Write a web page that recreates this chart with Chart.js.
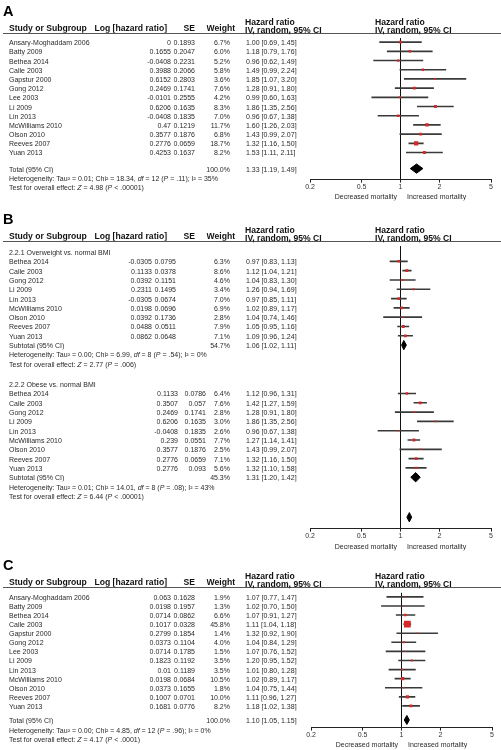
<!DOCTYPE html>
<html>
<head>
<meta charset="utf-8">
<title>Forest plots</title>
<script src="https://cdn.jsdelivr.net/npm/chart.js@4.4.1/dist/chart.umd.min.js"></script>
<style>
  html, body { margin: 0; padding: 0; background: #fff; }
  body { position: relative; width: 501px; height: 750px; overflow: hidden;
         font-family: "Liberation Sans", Arial, Helvetica, sans-serif; }
  canvas { position: absolute; left: 0; }
  .t { position: absolute; white-space: nowrap; font-size: 7px; line-height: 1; color: #2a2a2a;
       transform: translateY(-50%); will-change: transform; }
  .t.r { transform: translate(-100%, -50%); }
  .t.h { font-size: 8.6px; font-weight: bold; color: #111; }
  .t.big { font-size: 14.5px; font-weight: bold; color: #000; }
  .rule { position: absolute; left: 3px; width: 498px; height: 1.3px; background: #555; }
</style>
</head>
<body>
<script>
const FONT = '"Liberation Sans", Arial, sans-serif';
const tickValues = [0.2, 0.5, 1, 2, 5];
const tickLabels = ['0.2', '0.5', '1', '2', '5'];

// --- Panel A
const aStudies = ['Ansary-Moghaddam 2006', 'Batty 2009', 'Bethea 2014', 'Calle 2003', 'Gapstur 2000', 'Gong 2012', 'Lee 2003', 'Li 2009', 'Lin 2013', 'McWilliams 2010', 'Olson 2010', 'Reeves 2007', 'Yuan 2013'];
const aLogHR = [0, 0.1655, -0.0408, 0.3988, 0.6152, 0.2469, -0.0101, 0.6206, -0.0408, 0.47, 0.3577, 0.2776, 0.4253];
const aSE = [0.1893, 0.2047, 0.2231, 0.2066, 0.2803, 0.1741, 0.2555, 0.1635, 0.1835, 0.1219, 0.1876, 0.0659, 0.1637];
const aWeight = [6.7, 6.0, 5.2, 5.8, 3.6, 7.6, 4.2, 8.3, 7.0, 11.7, 6.8, 18.7, 8.2];
const aHR = [1.00, 1.18, 0.96, 1.49, 1.85, 1.28, 0.99, 1.86, 0.96, 1.60, 1.43, 1.32, 1.53];
const aLow = [0.69, 0.79, 0.62, 0.99, 1.07, 0.91, 0.60, 1.35, 0.67, 1.26, 0.99, 1.16, 1.11];
const aHigh = [1.45, 1.76, 1.49, 2.24, 3.20, 1.80, 1.63, 2.56, 1.38, 2.03, 2.07, 1.50, 2.11];
const aTotal = [100.0, 1.33, 1.19, 1.49];
const aHet = 'Heterogeneity: Tau² = 0.01; Chi² = 18.34, <i>df</i> = 12 (<i>P</i> = .11); I² = 35%';
const aTest = 'Test for overall effect: <i>Z</i> = 4.98 (<i>P</i> &lt; .00001)';

// --- Panel B
const bStudies = ['Bethea 2014', 'Calle 2003', 'Gong 2012', 'Li 2009', 'Lin 2013', 'McWilliams 2010', 'Olson 2010', 'Reeves 2007', 'Yuan 2013'];
const b1LogHR = [-0.0305, 0.1133, 0.0392, 0.2311, -0.0305, 0.0198, 0.0392, 0.0488, 0.0862];
const b1SE = [0.0795, 0.0378, 0.1151, 0.1495, 0.0674, 0.0696, 0.1736, 0.0511, 0.0648];
const b1Weight = [6.3, 8.6, 4.6, 3.4, 7.0, 6.9, 2.8, 7.9, 7.1];
const b1HR = [0.97, 1.12, 1.04, 1.26, 0.97, 1.02, 1.04, 1.05, 1.09];
const b1Low = [0.83, 1.04, 0.83, 0.94, 0.85, 0.89, 0.74, 0.95, 0.96];
const b1High = [1.13, 1.21, 1.30, 1.69, 1.11, 1.17, 1.46, 1.16, 1.24];
const b1Subtotal = [54.7, 1.06, 1.02, 1.11];
const b1Het = 'Heterogeneity: Tau² = 0.00; Chi² = 6.99, <i>df</i> = 8 (<i>P</i> = .54); I² = 0%';
const b1Test = 'Test for overall effect: <i>Z</i> = 2.77 (<i>P</i> = .006)';
const b2LogHR = [0.1133, 0.3507, 0.2469, 0.6206, -0.0408, 0.239, 0.3577, 0.2776, 0.2776];
const b2SE = [0.0786, 0.057, 0.1741, 0.1635, 0.1835, 0.0551, 0.1876, 0.0659, 0.093];
const b2Weight = [6.4, 7.6, 2.8, 3.0, 2.6, 7.7, 2.5, 7.1, 5.6];
const b2HR = [1.12, 1.42, 1.28, 1.86, 0.96, 1.27, 1.43, 1.32, 1.32];
const b2Low = [0.96, 1.27, 0.91, 1.35, 0.67, 1.14, 0.99, 1.16, 1.10];
const b2High = [1.31, 1.59, 1.80, 2.56, 1.38, 1.41, 2.07, 1.50, 1.58];
const b2Subtotal = [45.3, 1.31, 1.20, 1.42];
const b2Het = 'Heterogeneity: Tau² = 0.01; Chi² = 14.01, <i>df</i> = 8 (<i>P</i> = .08); I² = 43%';
const b2Test = 'Test for overall effect: <i>Z</i> = 6.44 (<i>P</i> &lt; .00001)';
const bOverall = [1.17, 1.12, 1.22]; // only the diamond is shown, estimated

// --- Panel C
const cStudies = ['Ansary-Moghaddam 2006', 'Batty 2009', 'Bethea 2014', 'Calle 2003', 'Gapstur 2000', 'Gong 2012', 'Lee 2003', 'Li 2009', 'Lin 2013', 'McWilliams 2010', 'Olson 2010', 'Reeves 2007', 'Yuan 2013'];
const cLogHR = [0.063, 0.0198, 0.0714, 0.1017, 0.2799, 0.0373, 0.0714, 0.1823, 0.01, 0.0198, 0.0373, 0.1007, 0.1681];
const cSE = [0.1628, 0.1957, 0.0862, 0.0328, 0.1854, 0.1104, 0.1785, 0.1192, 0.1189, 0.0684, 0.1655, 0.0701, 0.0776];
const cWeight = [1.9, 1.3, 6.6, 45.8, 1.4, 4.0, 1.5, 3.5, 3.5, 10.5, 1.8, 10.0, 8.2];
const cHR = [1.07, 1.02, 1.07, 1.11, 1.32, 1.04, 1.07, 1.20, 1.01, 1.02, 1.04, 1.11, 1.18];
const cLow = [0.77, 0.70, 0.91, 1.04, 0.92, 0.84, 0.76, 0.95, 0.80, 0.89, 0.75, 0.96, 1.02];
const cHigh = [1.47, 1.50, 1.27, 1.18, 1.90, 1.29, 1.52, 1.52, 1.28, 1.17, 1.44, 1.27, 1.38];
const cTotal = [100.0, 1.10, 1.05, 1.15];
const cHet = 'Heterogeneity: Tau² = 0.00; Chi² = 4.85, <i>df</i> = 12 (<i>P</i> = .96); I² = 0%';
const cTest = 'Test for overall effect: <i>Z</i> = 4.17 (<i>P</i> &lt; .0001)';

// ---------- helpers
function addText(html, x, y, cls) {
  const d = document.createElement('div');
  d.className = 't ' + (cls || '');
  d.style.left = x + 'px';
  d.style.top = y + 'px';
  d.innerHTML = html;
  document.body.appendChild(d);
}
const ci = (hr, lo, hi) => `${hr.toFixed(2)} [${lo.toFixed(2)}, ${hi.toFixed(2)}]`;

function diamond(s, row) {
  // s = [hr, low, high]
  return [{x: s[1], y: row}, {x: s[0], y: row - 0.5}, {x: s[2], y: row}, {x: s[0], y: row + 0.5}, {x: s[1], y: row}];
}

function chartConfig(p, yMax) {
  const ciData = [], ptData = [], ptRadius = [];
  p.groups.forEach(g => {
    g.hr.forEach((hr, i) => {
      const row = g.first + i;
      ciData.push({x: [g.low[i], g.high[i]], y: row});
      ptData.push({x: hr, y: row});
      ptRadius.push(Math.max(0.8, Math.sqrt(g.weight[i]) / Math.SQRT2));
    });
  });
  const datasets = [
    {type: 'bar', indexAxis: 'y', data: ciData, backgroundColor: '#3a3a3a', barThickness: 1, borderWidth: 0, order: 3},
    {type: 'scatter', data: ptData, pointStyle: 'rect', pointRadius: ptRadius, pointBackgroundColor: '#d62828', pointBorderWidth: 0, order: 0}
  ];
  p.diamonds.forEach(d => {
    datasets.push({type: 'scatter', data: diamond(d.s, d.row), showLine: true, fill: 'shape', tension: 0,
      backgroundColor: '#000', borderColor: '#000', borderWidth: 1, pointRadius: 0, order: 1});
  });
  return {
    type: 'scatter',
    data: {datasets},
    options: {
      responsive: false, animation: false, devicePixelRatio: 1, events: [],
      layout: {padding: {left: p.left, right: 501 - p.right, top: 0, bottom: 0}},
      plugins: {legend: {display: false}, tooltip: {enabled: false}},
      scales: {
        x: {
          type: 'logarithmic', min: 0.2, max: 5, bounds: 'data', offset: false,
          afterBuildTicks: s => { s.ticks = tickValues.map(v => ({value: v})); },
          ticks: {callback: (v, i) => tickLabels[i], autoSkip: false, maxRotation: 0, padding: 0,
                  color: '#333', font: {size: 7, family: FONT}},
          grid: {offset: false, color: c => (c.tick && c.tick.value === 1 ? '#111' : 'rgba(0,0,0,0)'),
                 tickColor: '#222', tickLength: 3, lineWidth: 1},
          border: {display: true, color: '#222', width: 1}
        },
        y: {type: 'linear', reverse: true, min: 0, max: yMax, display: false, offset: false,
            bounds: 'data', grace: 0, grid: {offset: false}}
      }
    }
  };
}

function makeCanvas(top, h) {
  const cv = document.createElement('canvas');
  cv.width = 501; cv.height = Math.round(h);
  cv.style.top = top + 'px';
  cv.style.width = '501px'; cv.style.height = Math.round(h) + 'px';
  document.body.appendChild(cv);
  return cv;
}

function drawPanel(p) {
  const area = p.axisY - p.top;
  const yMax = area / p.pitch;
  // first pass to learn the height of the x axis, then size the canvas so the axis sits at axisY
  let cv = makeCanvas(p.top, area + 20);
  let chart = new Chart(cv, chartConfig(p, yMax));
  const axisH = chart.height - chart.chartArea.bottom;
  chart.destroy(); cv.remove();
  cv = makeCanvas(p.top, area + axisH);
  chart = new Chart(cv, chartConfig(p, yMax));

  const Y = v => p.top + chart.scales.y.getPixelForValue(v);
  const top = p.top;

  // header
  addText(p.letter, 3, top - 23, 'big');
  const rule = document.createElement('div');
  rule.className = 'rule'; rule.style.top = (top - 1.2) + 'px';
  document.body.appendChild(rule);
  addText('Study or Subgroup', 9, top - 6, 'h');
  addText('Log [hazard ratio]', 167, top - 6, 'h r');
  addText('SE', 194.5, top - 6, 'h r');
  addText('Weight', 235, top - 6, 'h r');
  addText('Hazard ratio', 245, top - 12.5, 'h');
  addText('IV, random, 95% CI', 245, top - 4, 'h');
  addText('Hazard ratio', 375, top - 12.5, 'h');
  addText('IV, random, 95% CI', 375, top - 4, 'h');

  // table rows
  p.groups.forEach(g => {
    if (g.title) addText(g.title, 9, Y(g.titleRow));
    g.names.forEach((n, i) => {
      const y = Y(g.first + i);
      addText(n, 8.5, y);
      addText(String(g.logHR[i]), g.logRight, y, 'r');
      addText(String(g.se[i]), g.seRight, y, 'r');
      addText(g.weight[i].toFixed(1) + '%', 229.5, y, 'r');
      addText(ci(g.hr[i], g.low[i], g.high[i]), 245.5, y);
    });
    const ys = Y(g.sumRow);
    addText(g.sumLabel, 8.5, ys);
    addText(g.sum[0].toFixed(1) + '%', 229.5, ys, 'r');
    addText(ci(g.sum[1], g.sum[2], g.sum[3]), 245.5, ys);
    addText(g.het, 8.5, Y(g.hetRow));
    addText(g.test, 8.5, Y(g.hetRow + 1));
  });

  const x1 = chart.scales.x.getPixelForValue(1);
  addText('Decreased mortality', x1 - 4, p.axisY + 16.5, 'r');
  addText('Increased mortality', x1 + 6, p.axisY + 16.5);
}

drawPanel({
  letter: 'A', top: 34, axisY: 179.5, pitch: 9.45, left: 310, right: 491,
  groups: [{names: aStudies, logHR: aLogHR, se: aSE, weight: aWeight, hr: aHR, low: aLow, high: aHigh,
            first: 0.45, logRight: 171, seRight: 194.5,
            sumLabel: 'Total (95% CI)', sum: aTotal, sumRow: 14.2, het: aHet, test: aTest, hetRow: 15.25}],
  diamonds: [{s: aTotal.slice(1), row: 14.2}]
});

drawPanel({
  letter: 'B', top: 242, axisY: 529, pitch: 9.45, left: 310, right: 491,
  groups: [
    {title: '2.2.1 Overweight vs. normal BMI', titleRow: 0.65,
     names: bStudies, logHR: b1LogHR, se: b1SE, weight: b1Weight, hr: b1HR, low: b1Low, high: b1High,
     first: 1.65, logRight: 151.5, seRight: 176,
     sumLabel: 'Subtotal (95% CI)', sum: b1Subtotal, sumRow: 10.65, het: b1Het, test: b1Test, hetRow: 11.65},
    {title: '2.2.2 Obese vs. normal BMI', titleRow: 14.85,
     names: bStudies, logHR: b2LogHR, se: b2SE, weight: b2Weight, hr: b2HR, low: b2Low, high: b2High,
     first: 15.85, logRight: 177.5, seRight: 205.5,
     sumLabel: 'Subtotal (95% CI)', sum: b2Subtotal, sumRow: 24.85, het: b2Het, test: b2Test, hetRow: 25.85}
  ],
  diamonds: [{s: b1Subtotal.slice(1), row: 10.65}, {s: b2Subtotal.slice(1), row: 24.85}, {s: bOverall, row: 29.15}]
});

drawPanel({
  letter: 'C', top: 588, axisY: 727.5, pitch: 9.4, left: 311, right: 492,
  groups: [{names: cStudies, logHR: cLogHR, se: cSE, weight: cWeight, hr: cHR, low: cLow, high: cHigh,
            first: 0.45, logRight: 171, seRight: 194.5,
            sumLabel: 'Total (95% CI)', sum: cTotal, sumRow: 14.0, het: cHet, test: cTest, hetRow: 15.15}],
  diamonds: [{s: cTotal.slice(1), row: 14.0}]
});
</script>
</body>
</html>
